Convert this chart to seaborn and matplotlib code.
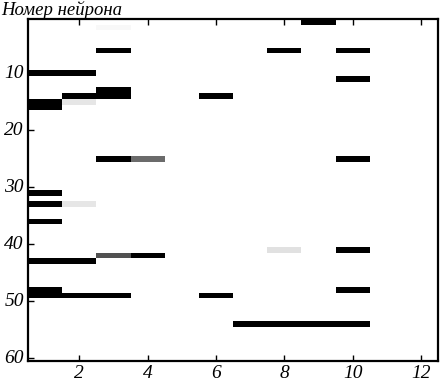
import matplotlib
matplotlib.use('Agg')
import matplotlib.pyplot as plt
import seaborn as sns
import pandas as pd
import numpy as np

# active cells: neuron number, time column, activity level (1 = black)
neuron = [1, 2, 6, 6, 6, 10, 10, 11, 13, 14, 14, 14, 15, 16, 15,
          25, 25, 25, 31, 33, 33, 36, 41, 41, 42, 42, 43, 43,
          48, 48, 49, 49, 49, 49, 54, 54, 54, 54]
column = [9, 3, 3, 8, 10, 1, 2, 10, 3, 3, 2, 6, 1, 1, 2,
          3, 4, 10, 1, 1, 2, 1, 8, 10, 3, 4, 1, 2,
          1, 10, 1, 2, 3, 6, 7, 8, 9, 10]
level = [1, 0.03, 1, 1, 1, 1, 1, 1, 1, 1, 1, 1, 1, 1, 0.1,
         1, 0.58, 1, 1, 1, 0.1, 1, 0.12, 1, 0.68, 1, 1, 1,
         1, 1, 1, 1, 1, 1, 1, 1, 1, 1]

n_neurons = 60
n_steps = 12
xtick_vals = [2, 4, 6, 8, 10, 12]
ytick_vals = [10, 20, 30, 40, 50, 60]

plt.rcParams['font.family'] = ['Liberation Serif', 'DejaVu Serif']
plt.rcParams['font.style'] = 'italic'
plt.rcParams['font.size'] = 13


def plot():
    df = pd.DataFrame({'neuron': neuron, 'step': column, 'level': level})
    grid = (df.pivot_table(index='neuron', columns='step', values='level', aggfunc='max')
              .reindex(index=range(1, n_neurons + 1), columns=range(1, n_steps + 1))
              .fillna(0))

    fig = plt.figure(figsize=(4.4, 3.82), dpi=100)
    ax = fig.add_axes([28 / 440, 1 - 361 / 382, 410 / 440, 342 / 382])
    sns.heatmap(grid, cmap='gray_r', vmin=0, vmax=1, cbar=False, ax=ax)

    for s in ax.spines.values():
        s.set_visible(True)
        s.set_linewidth(1.6)
        s.set_color('black')

    ax.set_xticks([v - 0.5 for v in xtick_vals])
    ax.set_xticklabels([str(v) for v in xtick_vals], rotation=0)
    ax.set_yticks([v - 0.5 for v in ytick_vals])
    ax.set_yticklabels([str(v) for v in ytick_vals], rotation=0, va='center')
    ax.set_xlim(0, n_steps)
    ax.set_ylim(n_neurons, 0)
    ax.tick_params(direction='in', length=4, width=1, top=True, bottom=True,
                   left=True, right=False, labelsize=14, pad=3)
    ax.set_xlabel('')
    ax.set_ylabel('')

    fig.text(0.002, 1 - 15 / 382, 'Номер нейрона', fontsize=13.5, va='baseline', ha='left')
    fig.savefig('out.png', dpi=100)


if __name__ == '__main__':
    plot()
